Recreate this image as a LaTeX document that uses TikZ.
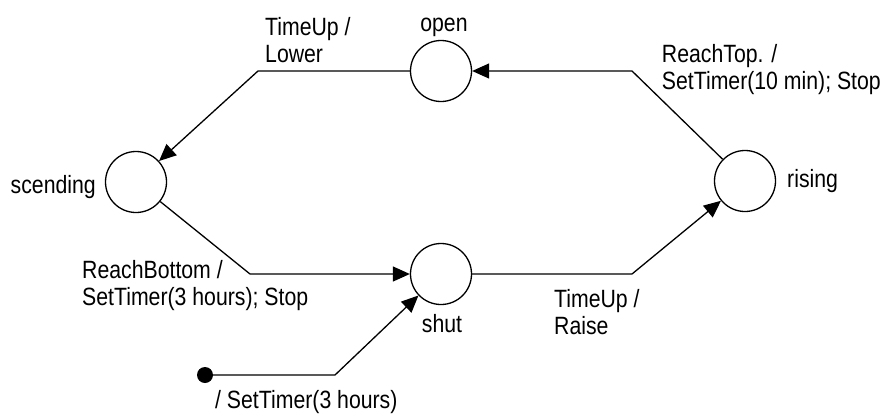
\documentclass[tikz,border=0pt]{standalone}
\usepackage{fontspec}
\setmainfont{Liberation Sans}[FakeStretch=0.85]
\usetikzlibrary{arrows.meta}
\begin{document}
\begin{tikzpicture}[x=1pt,y=-1pt,
  state/.style={draw,circle,line width=1.3pt,minimum size=61pt,inner sep=0pt},
  trans/.style={draw,line width=1.3pt,-{Triangle[length=17pt,width=15pt]}},
  txt/.style={inner sep=0pt,font=\fontsize{25}{26.5}\selectfont,align=left},
  init/.style={fill,circle,minimum size=16pt,inner sep=0pt}]
\useasboundingbox (0,0) rectangle (888,415);

% states
\node[state] (open) at (441,71) {};
\node[state] (scend) at (136,182) {};
\node[state] (shut) at (441,274) {};
\node[state] (rising) at (745,181) {};
\node[init] (start) at (205,375) {};

% state names
\node[txt,anchor=base] (openlbl) at (444,31) {open};
\node[txt,anchor=base east] (scendlbl) at (96,193) {scending};
\node[txt,anchor=base] (shutlbl) at (442,332) {shut};
\node[txt,anchor=base west] (risinglbl) at (787,187) {rising};

% bend points of the connectors
\coordinate (b1) at (258,71);
\coordinate (b2) at (632,71);
\coordinate (b3) at (250,274);
\coordinate (b4) at (632,274);
\coordinate (b5) at (335,375);

% transitions
\draw[trans] (open) -- (b1) -- (scend);
\draw[trans] (rising) -- (b2) -- (open);
\draw[trans] (scend) -- (b3) -- (shut);
\draw[trans] (shut) -- (b4) -- (rising);
\draw[trans] (start) -- (b5) -- (shut);

% transition labels (anchored at the baseline of their last line)
\node[txt,anchor=base west] (l1) at (265,62) {TimeUp /\\Lower};
\node[txt,anchor=base east] (l2) at (881,89) {ReachTop. /\\SetTimer(10 min); Stop};
\node[txt,anchor=base west] (l3) at (82,305) {ReachBottom /\\SetTimer(3 hours); Stop};
\node[txt,anchor=base west] (l4) at (554,334) {TimeUp /\\Raise};
\node[txt,anchor=base west] (l5) at (215,408) {/ SetTimer(3 hours)};
\end{tikzpicture}
\end{document}
